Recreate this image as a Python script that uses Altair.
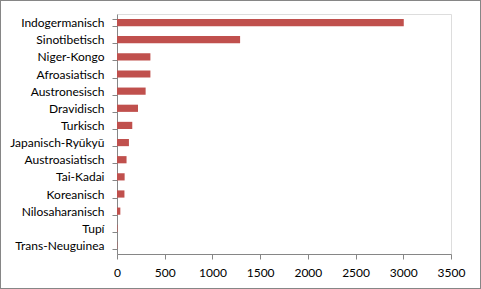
import altair as alt
import pandas as pd

families = ["Indogermanisch", "Sinotibetisch", "Niger-Kongo", "Afroasiatisch",
            "Austronesisch", "Dravidisch", "Turkisch", "Japanisch-Ryūkyū",
            "Austroasiatisch", "Tai-Kadai", "Koreanisch", "Nilosaharanisch",
            "Tupí", "Trans-Neuguinea"]
speakers = [3005, 1290, 350, 350, 300, 220, 160, 125, 100, 80, 78, 35, 5, 3]
x_ticks = [0, 500, 1000, 1500, 2000, 2500, 3000, 3500]

df = pd.DataFrame({"family": families, "speakers": speakers})

FONT = "Lato"
GRAY = "#868686"

bars = alt.Chart(df).mark_bar(color="#C0504D").encode(
    y=alt.Y("family:N", sort=families, title=None,
            scale=alt.Scale(paddingInner=0.58, paddingOuter=0.29),
            axis=alt.Axis(tickBand="extent", tickSize=5, tickColor=GRAY,
                          domainColor=GRAY, labelPadding=8, labelFont=FONT,
                          labelFontSize=12, labelColor="#000000", grid=False)),
    x=alt.X("speakers:Q", title=None,
            scale=alt.Scale(domain=[0, 3500], nice=False),
            axis=alt.Axis(values=x_ticks, format="d", tickSize=5, tickColor=GRAY,
                          domainColor=GRAY, labelPadding=8, labelFont=FONT,
                          labelFontSize=12, labelColor="#000000", grid=False,
                          labelFlush=False)),
)

border = alt.Chart(df).mark_rect(fill=None, stroke=GRAY, strokeWidth=1).encode(
    x=alt.value(-116.5), x2=alt.value(363.5),
    y=alt.value(-13.5), y2=alt.value(274.5),
)

chart = alt.layer(bars, border).properties(
    width=334, height=240,
    padding={"left": 117, "top": 14, "right": 30, "bottom": 35},
    autosize=alt.AutoSizeParams(type="none"),
).configure_view(stroke=None).configure(background="white")

chart.save("out.html", embed_options={"renderer": "svg", "actions": False})
